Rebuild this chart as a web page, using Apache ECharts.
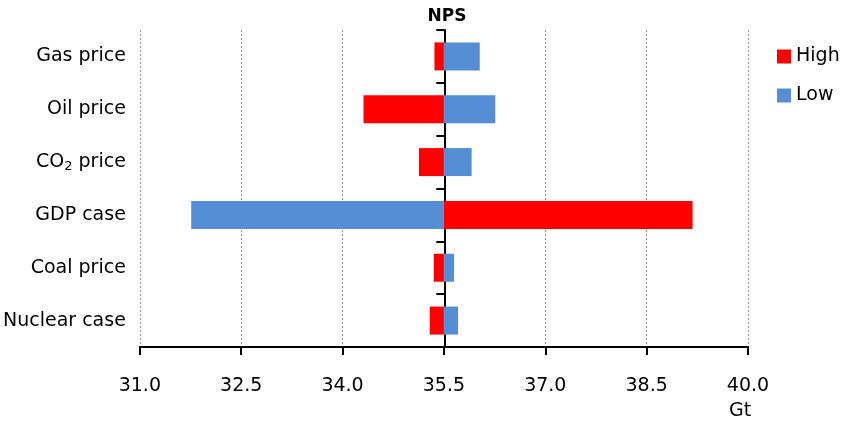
<!DOCTYPE html>
<html><head><meta charset="utf-8">
<script src="https://cdn.jsdelivr.net/npm/echarts@6/dist/echarts.min.js"></script>
<style>html,body{margin:0;padding:0;background:#fff}#c{width:842px;height:422px}</style>
</head><body><div id="c"></div>
<script>
const categories = ['Gas price', 'Oil price', 'CO2 price', 'GDP case', 'Coal price', 'Nuclear case'];
const highValues = [35.36, 34.31, 35.13, 39.18, 35.35, 35.29];
const lowValues = [36.03, 36.26, 35.91, 31.76, 35.65, 35.71];
const baseValue = 35.5;
const xTicks = [31.0, 32.5, 34.0, 35.5, 37.0, 38.5, 40.0];

const FONT = '"DejaVu Sans", sans-serif';
const chart = echarts.init(document.getElementById('c'), null, {renderer: 'canvas'});

function barRender(params, api) {
  const cat = api.value(0);
  const v = api.value(1);
  const p0 = api.coord([baseValue, cat]);
  const p1 = api.coord([v, cat]);
  const h = api.size([0, 1])[1] * 0.53;
  const x = Math.min(p0[0], p1[0]);
  const w = Math.abs(p1[0] - p0[0]);
  return {type: 'rect', shape: {x: x, y: p0[1] - h / 2, width: w, height: h}, style: {fill: api.visual('color')}};
}

const option = {
  animation: false,
  title: {text: 'NPS', left: 442, top: 3, textAlign: 'center',
    textStyle: {fontFamily: FONT, fontWeight: 'bold', fontSize: 17, color: '#000'}},
  legend: {orient: 'vertical', left: 772, top: 42, itemWidth: 14, itemHeight: 14, itemGap: 20,
    icon: 'rect', textStyle: {fontFamily: FONT, fontSize: 19, color: '#000'},
    data: ['High', 'Low']},
  grid: {left: 139, right: 94, top: 30, bottom: 75},
  xAxis: {type: 'value', min: 31, max: 40, interval: 1.5,
    axisLine: {show: true, lineStyle: {color: '#000', width: 2}},
    axisTick: {show: true, length: 8, lineStyle: {color: '#000', width: 2}},
    axisLabel: {margin: 30, fontFamily: FONT, fontSize: 19, color: '#000',
      formatter: v => v.toFixed(1)},
    splitLine: {show: true, lineStyle: {color: '#999', type: [2, 2], width: 1}}},
  yAxis: [{type: 'category', data: categories, inverse: true,
    axisLine: {show: false}, axisTick: {show: false},
    axisLabel: {margin: 14, fontFamily: FONT, fontSize: 19, color: '#000',
      formatter: v => v === 'CO2 price' ? 'CO{sub|2} price' : v,
      rich: {sub: {fontFamily: FONT, fontSize: 13, color: '#000', padding: [10, 0, 0, 0]}}}},
    {type: 'category', data: categories, inverse: true, position: 'left', offset: -304.5,
    axisLine: {show: true, lineStyle: {color: '#000', width: 2}},
    axisTick: {show: true, length: 8, lineStyle: {color: '#000', width: 2}},
    axisLabel: {show: false}, splitLine: {show: false}}],
  graphic: [{type: 'text', left: 729, top: 402,
    style: {text: 'Gt', fontFamily: FONT, fontSize: 19, fill: '#000'}}],
  series: [
    {name: 'High', type: 'custom', color: '#FF0000', itemStyle: {color: '#FF0000'},
      renderItem: barRender, encode: {x: 1, y: 0},
      data: highValues.map((v, i) => [i, v])},
    {name: 'Low', type: 'custom', color: '#558ED5', itemStyle: {color: '#558ED5'},
      renderItem: barRender, encode: {x: 1, y: 0},
      data: lowValues.map((v, i) => [i, v])}
  ]
};
chart.setOption(option);
</script></body></html>
